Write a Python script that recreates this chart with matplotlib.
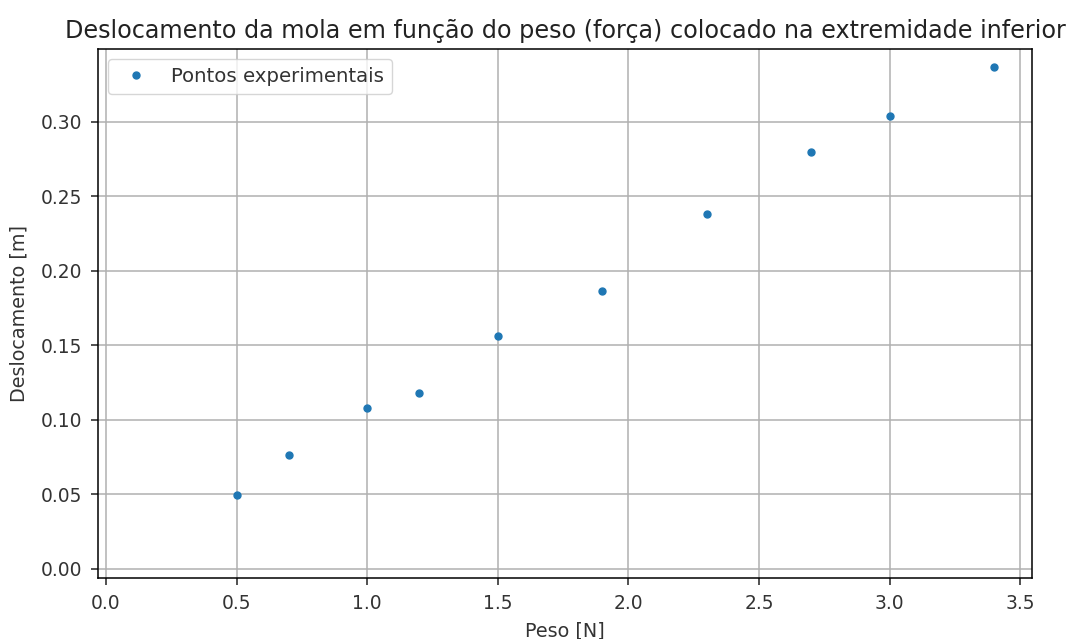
import matplotlib
matplotlib.use("Agg")
import matplotlib.pyplot as plt

peso = [0.5, 0.7, 1.0, 1.2, 1.5, 1.9, 2.3, 2.7, 3.0, 3.4]
deslocamento = [0.0495, 0.0763, 0.108, 0.1177, 0.1564, 0.1862, 0.2383, 0.2797, 0.3036, 0.3365]

s = 1.38
plt.rcParams['font.size'] = 10 * s
plt.rcParams['axes.linewidth'] = 0.8 * s
plt.rcParams['xtick.major.width'] = 0.8 * s
plt.rcParams['ytick.major.width'] = 0.8 * s
plt.rcParams['xtick.major.size'] = 3.5 * s
plt.rcParams['ytick.major.size'] = 3.5 * s
plt.rcParams['xtick.major.pad'] = 6.8
plt.rcParams['ytick.major.pad'] = 6.8

fig = plt.figure(figsize=(10.69, 6.39), dpi=100)
ax = fig.add_axes([0.0921, 0.0950, 0.9651 - 0.0921, 0.9233 - 0.0950])
ax.plot(peso, deslocamento, 'o', markersize=5.0, color='#1f77b4', label='Pontos experimentais')
ax.set_xlim(-0.0287, 3.5436)
ax.set_ylim(-0.0064, 0.3488)
ax.set_xticks([0.0, 0.5, 1.0, 1.5, 2.0, 2.5, 3.0, 3.5])
ax.set_yticks([0.00, 0.05, 0.10, 0.15, 0.20, 0.25, 0.30])
ax.yaxis.set_major_formatter(matplotlib.ticker.FormatStrFormatter('%.2f'))
ax.xaxis.set_major_formatter(matplotlib.ticker.FormatStrFormatter('%.1f'))
ax.tick_params(labelsize=9.7 * s, colors='#222222', labelcolor='#333333')
ax.grid(True, linewidth=0.8 * s)
ax.set_xlabel('Peso [N]', fontsize=10 * s, labelpad=5.5, color='#333333')
ax.set_ylabel('Deslocamento [m]', fontsize=10 * s, labelpad=9, color='#333333')
ax.set_title('Deslocamento da mola em função do peso (força) colocado na extremidade inferior',
             fontsize=17.2, pad=8, color='#222222')
leg = ax.legend(loc='upper left', fontsize=14.2)
for t in leg.get_texts():
    t.set_color('#333333')
fig.savefig('out.png', dpi=100)
